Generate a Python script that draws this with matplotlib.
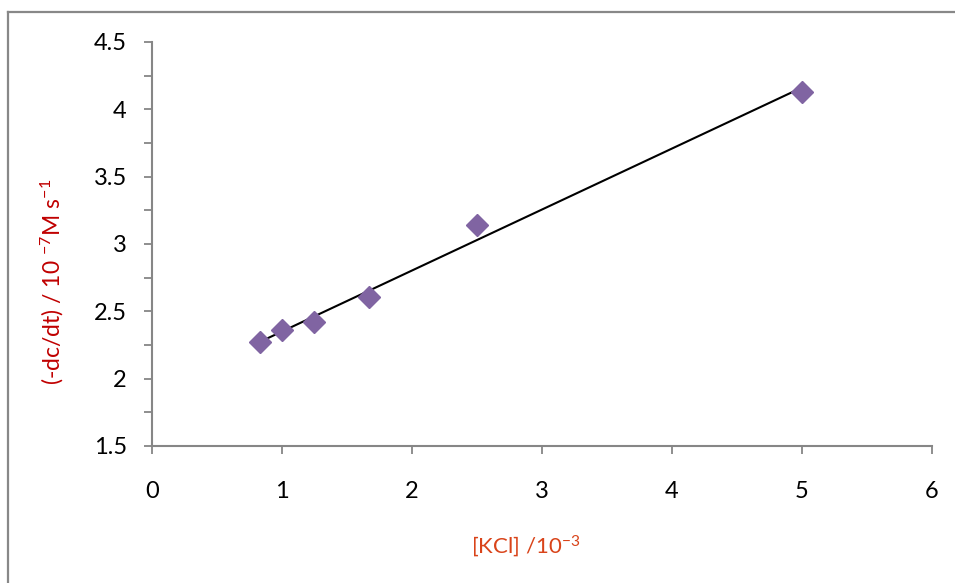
import matplotlib
matplotlib.use("Agg")
import matplotlib.pyplot as plt
from matplotlib.lines import Line2D
from matplotlib.ticker import MultipleLocator, FuncFormatter
import numpy as np

# data
kcl = [0.83, 1.0, 1.25, 1.67, 2.5, 5.0]
rate = [2.27, 2.36, 2.42, 2.61, 3.14, 4.13]

plt.rcParams['font.family'] = ['Lato', 'DejaVu Sans']
plt.rcParams['mathtext.fontset'] = 'custom'
plt.rcParams['mathtext.rm'] = 'Lato'
plt.rcParams['mathtext.it'] = 'Lato'

fig = plt.figure(figsize=(9.55, 5.83), dpi=100)
ax = fig.add_axes([0.159, 0.235, 0.817, 0.693])

# scatter points
ax.plot(kcl, rate, linestyle='none', marker='D', ms=11,
        color='#8064A2', zorder=3)

# linear trendline
slope, intercept = np.polyfit(kcl, rate, 1)
xs = np.array([min(kcl), max(kcl)])
ax.plot(xs, slope * xs + intercept, color='black', lw=1.5, zorder=2)

ax.set_xlim(0, 6)
ax.set_ylim(1.5, 4.5)
ax.xaxis.set_major_locator(MultipleLocator(1))
ax.yaxis.set_major_locator(MultipleLocator(0.25))


def ylab(v, pos):
    # only label every other tick (0.5 steps)
    if abs(v * 2 - round(v * 2)) > 1e-6:
        return ''
    return '%g' % v


ax.yaxis.set_major_formatter(FuncFormatter(ylab))

for s in ['top', 'right']:
    ax.spines[s].set_visible(False)
for s in ['left', 'bottom']:
    ax.spines[s].set_color('#868686')
    ax.spines[s].set_linewidth(1.5)

ax.tick_params(axis='y', direction='out', length=6, width=1.3,
               color='#868686', labelsize=17, pad=12)
ax.tick_params(axis='x', direction='out', length=6, width=1.3,
               color='#868686', labelsize=17, pad=19)

ax.set_ylabel('(-dc/dt) / 10 $^{-7}$M s$^{-1}$', color='#C00000', fontsize=16.5)
ax.yaxis.set_label_coords(-0.11, 0.406)
ax.set_xlabel('[KCl] /10$^{-3}$', color='#D9441A', fontsize=16)
ax.xaxis.set_label_coords(0.479, -0.215)

# outer chart frame (only left and top edges visible)
x0, y0 = 8 / 955, 1 - 12 / 583
fig.add_artist(Line2D([x0, x0], [0, y0], color='#888888', lw=1.6))
fig.add_artist(Line2D([x0, 1], [y0, y0], color='#888888', lw=1.6))

fig.savefig('out.png', dpi=100)
